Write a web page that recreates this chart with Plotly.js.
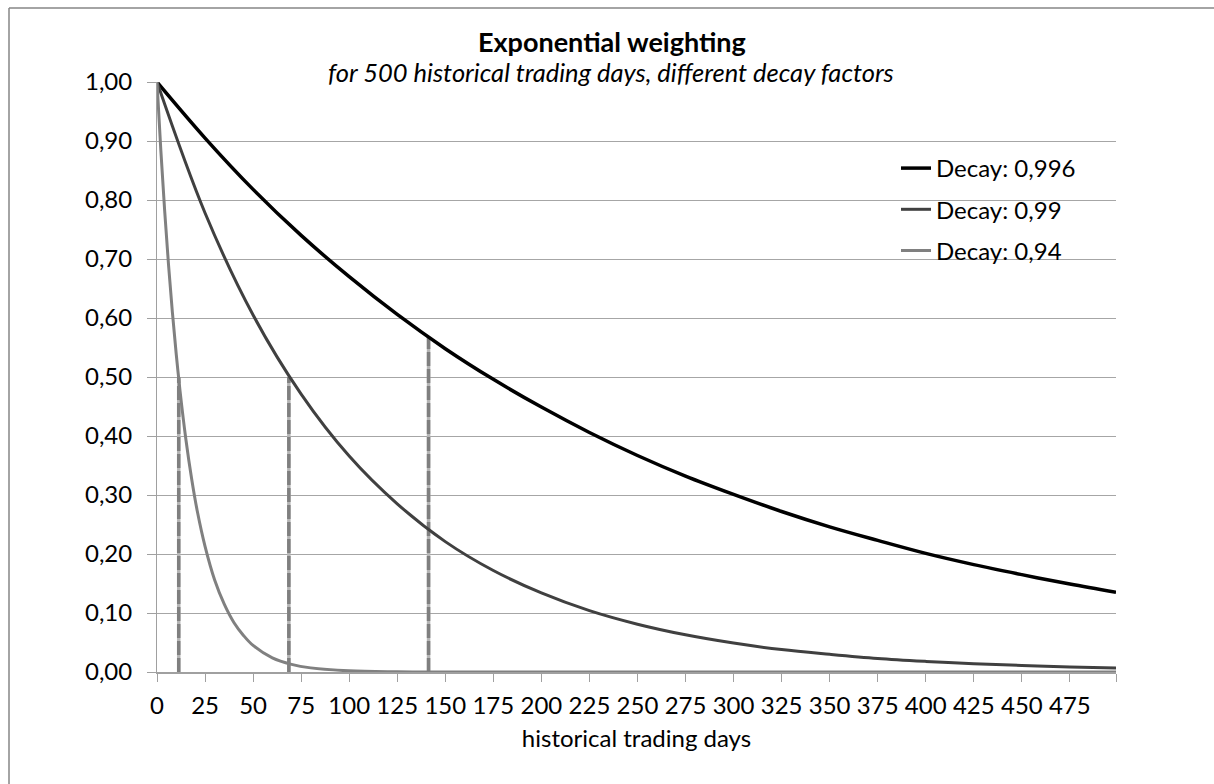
<!DOCTYPE html>
<html>
<head>
<meta charset="utf-8">
<script src="https://cdn.plot.ly/plotly-3.0.1.min.js"></script>
<style>
  html, body { margin: 0; padding: 0; background: #ffffff; }
  #chart { width: 1214px; height: 784px; }
</style>
</head>
<body>
<div id="chart"></div>
<script>
// ---- Data ----
const seriesNames = ['Decay: 0,996', 'Decay: 0,99', 'Decay: 0,94'];

// sample days for the slow-decay curves
const daysSlow = [0, 25, 50, 75, 100, 125, 150, 175, 200, 225, 250, 275, 300, 325, 350, 375, 400, 425, 450, 475, 499];
const weights996 = [1.000, 0.905, 0.818, 0.740, 0.670, 0.606, 0.548, 0.496, 0.449, 0.406, 0.367, 0.332, 0.301, 0.272, 0.246, 0.223, 0.201, 0.182, 0.165, 0.149, 0.135];
const weights99  = [1.000, 0.778, 0.605, 0.471, 0.366, 0.285, 0.221, 0.172, 0.134, 0.104, 0.081, 0.063, 0.049, 0.038, 0.030, 0.023, 0.018, 0.014, 0.011, 0.0085, 0.0066];

// sample days for the fast-decay curve
const daysFast = [0, 2, 4, 6, 8, 10, 12, 15, 18, 21, 25, 30, 35, 40, 45, 50, 60, 70, 80, 100, 125, 150, 200, 300, 400, 499];
const weights94 = [1.000, 0.884, 0.781, 0.690, 0.610, 0.539, 0.476, 0.395, 0.328, 0.272, 0.213, 0.156, 0.115, 0.084, 0.062, 0.045, 0.024, 0.013, 0.007, 0.002, 0.0004, 0.0001, 0, 0, 0, 0];

// vertical dashed markers (day, weight reached)
const markerDays    = [11.3, 68.6, 141.3];
const markerWeights = [0.50, 0.50, 0.568];

// axis ticks
const xTickValues = [0, 25, 50, 75, 100, 125, 150, 175, 200, 225, 250, 275, 300, 325, 350, 375, 400, 425, 450, 475, 499];
const xTickLabels = ['0', '25', '50', '75', '100', '125', '150', '175', '200', '225', '250', '275', '300', '325', '350', '375', '400', '425', '450', '475', ''];
const yTickValues = [0, 0.1, 0.2, 0.3, 0.4, 0.5, 0.6, 0.7, 0.8, 0.9, 1.0];

const chartTitle = 'Exponential weighting';
const chartSubtitle = 'for 500 historical trading days, different decay factors';
const xTitle = 'historical trading days';

// ---- Styles ----
const FONT = 'Lato, Carlito, Calibri, "Liberation Sans", sans-serif';
const curveColors = ['#000000', '#404040', '#808080'];
const curveWidths = [3.5, 3, 3];

const traces = [];

// dashed vertical markers (drawn first, under the curves)
markerDays.forEach(function (d, i) {
  traces.push({
    x: [d, d], y: [0, markerWeights[i]],
    mode: 'lines', showlegend: false, hoverinfo: 'skip',
    line: { color: '#b5b5b5', width: 3.5 }
  });
  traces.push({
    x: [d, d], y: [0, markerWeights[i]],
    mode: 'lines', showlegend: false, hoverinfo: 'skip',
    line: { color: '#7f7f7f', width: 3.5, dash: '14px,3px' }
  });
});

const curveX = [daysSlow, daysSlow, daysFast];
const curveY = [weights996, weights99, weights94];
seriesNames.forEach(function (name, i) {
  traces.push({
    x: curveX[i], y: curveY[i],
    name: name, legendgroup: 'g' + i,
    mode: 'lines',
    line: { color: curveColors[i], width: curveWidths[i], shape: 'spline', smoothing: 1 }
  });
});

const plotL = 157, plotR = 1116, plotT = 82, plotB = 672;
const W = 1214, H = 784;
const pw = plotR - plotL, ph = plotB - plotT;
function px2x(p) { return (p - plotL) / pw; }
function px2y(p) { return (plotB - p) / ph; }

const layout = {
  width: W, height: H,
  paper_bgcolor: '#ffffff', plot_bgcolor: '#ffffff',
  separators: ', ',
  font: { family: FONT, size: 24, color: '#000000' },
  margin: { l: plotL, r: W - plotR, t: plotT, b: H - plotB, pad: 0 },
  xaxis: {
    range: [0, 499],
    tickmode: 'array', tickvals: xTickValues, ticktext: xTickLabels,
    ticks: 'outside', ticklen: 8, tickwidth: 1, tickcolor: '#a0a0a0',
    ticklabelstandoff: 4,
    showline: true, linecolor: '#a0a0a0', linewidth: 1.5,
    showgrid: false, zeroline: false,
    tickfont: { family: FONT, size: 24, color: '#000000' },
    title: { text: xTitle, font: { family: FONT, size: 24, color: '#000000' }, standoff: 12 },
    automargin: false
  },
  yaxis: {
    range: [0, 1],
    tickmode: 'array', tickvals: yTickValues, tickformat: '.2f',
    ticks: 'outside', ticklen: 9, tickwidth: 1, tickcolor: '#a0a0a0',
    ticklabelstandoff: 10,
    showline: true, linecolor: '#a0a0a0', linewidth: 1,
    showgrid: true, gridcolor: '#a6a6a6', gridwidth: 1,
    zeroline: false,
    tickfont: { family: FONT, size: 24, color: '#000000' },
    automargin: false
  },
  legend: {
    x: px2x(896), xanchor: 'left',
    y: px2y(146), yanchor: 'top',
    bgcolor: 'rgba(0,0,0,0)', borderwidth: 0,
    traceorder: 'grouped', tracegroupgap: 7,
    font: { family: FONT, size: 24, color: '#000000' }
  },
  annotations: [
    {
      text: '<b>' + chartTitle + '</b>', showarrow: false,
      xref: 'paper', yref: 'paper', x: px2x(612), y: px2y(41),
      xanchor: 'center', yanchor: 'middle',
      font: { family: FONT, size: 27, color: '#000000' }
    },
    {
      text: '<i>' + chartSubtitle + '</i>', showarrow: false,
      xref: 'paper', yref: 'paper', x: px2x(611), y: px2y(72),
      xanchor: 'center', yanchor: 'middle',
      font: { family: FONT, size: 25.5, color: '#000000' }
    }
  ],
  shapes: [
    {
      type: 'line', xref: 'paper', yref: 'paper',
      x0: px2x(9), x1: px2x(1400), y0: px2y(8), y1: px2y(8),
      line: { color: '#868686', width: 1.5 }, layer: 'below'
    },
    {
      type: 'line', xref: 'paper', yref: 'paper',
      x0: px2x(9), x1: px2x(9), y0: px2y(8), y1: px2y(900),
      line: { color: '#868686', width: 1.5 }, layer: 'below'
    }
  ],
  showlegend: true
};

Plotly.newPlot('chart', traces, layout, { staticPlot: true, displayModeBar: false });
</script>
</body>
</html>
